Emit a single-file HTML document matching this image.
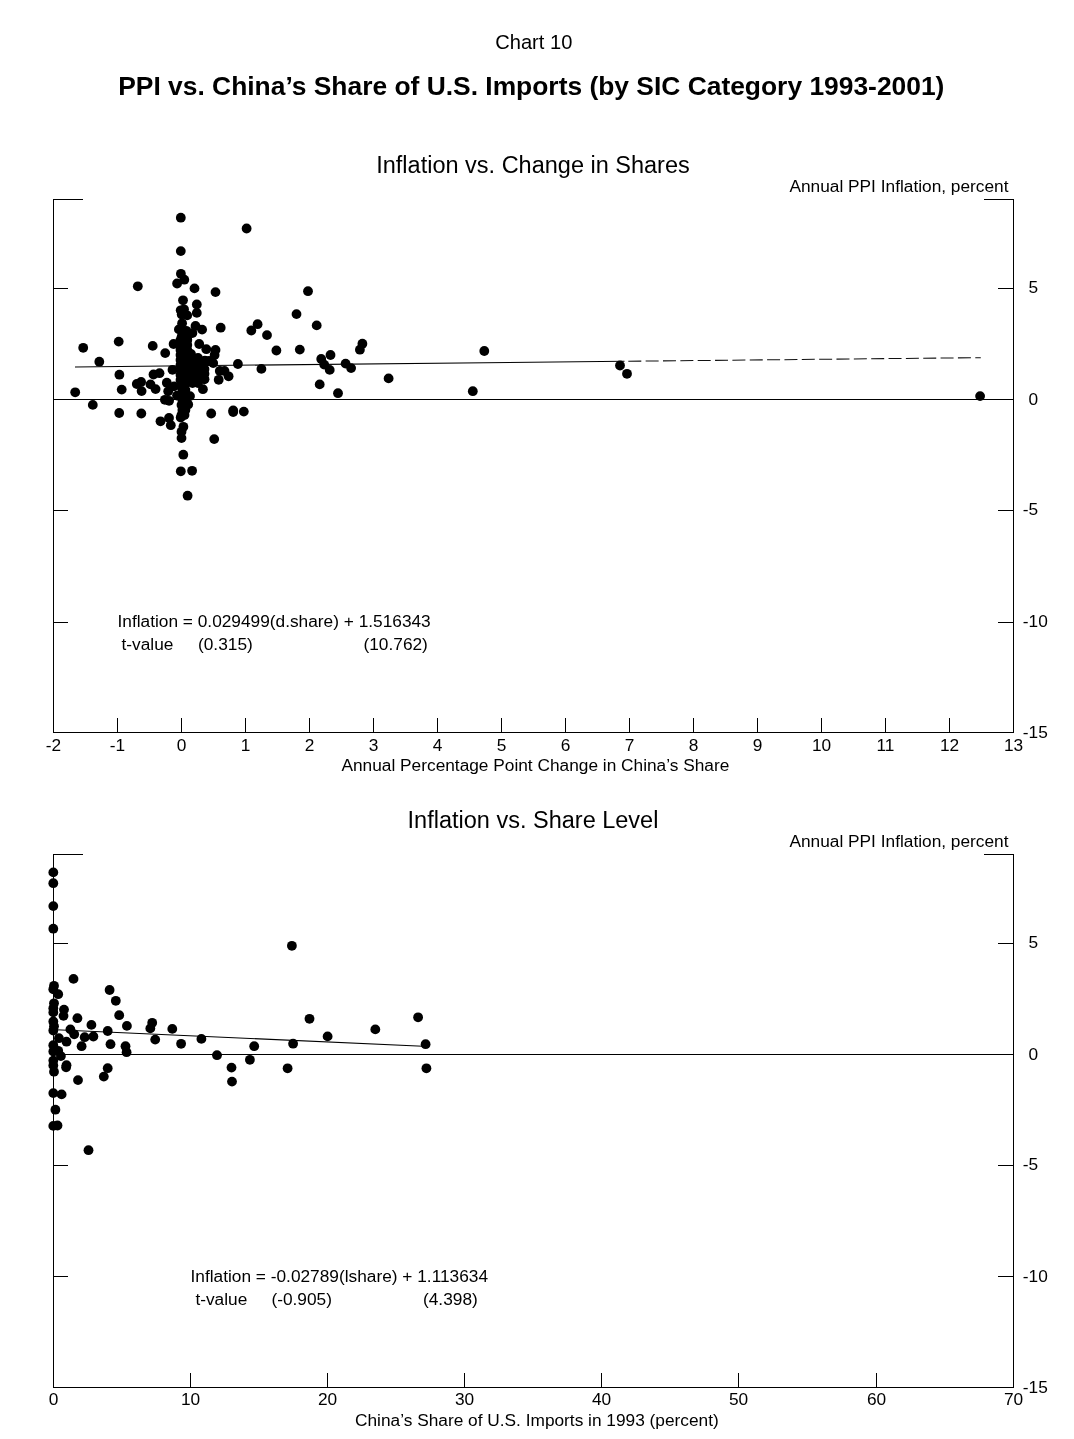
<!DOCTYPE html>
<html><head><meta charset="utf-8"><title>Chart 10</title>
<style>
html,body{margin:0;padding:0;background:#fff;}
svg{display:block;font-family:"Liberation Sans",sans-serif;fill:#000;}
</style></head>
<body>
<svg width="1074" height="1439" viewBox="0 0 1074 1439">
<rect width="1074" height="1439" fill="#fff"/>
<text x="533.8" y="49" font-size="20.1" text-anchor="middle">Chart 10</text>
<text x="531.3" y="94.6" font-size="26.4" font-weight="bold" text-anchor="middle">PPI vs. China’s Share of U.S. Imports (by SIC Category 1993-2001)</text>
<g>
<path d="M83.0,199.5 H53.5 V732.5 H1013.5 V199.5 H984.0" fill="none" stroke="#000" stroke-width="1.05" shape-rendering="crispEdges"/>
<line x1="53.5" y1="399.5" x2="1013.5" y2="399.5" stroke="#000" stroke-width="1.05" shape-rendering="crispEdges"/>
<line x1="53" y1="288.50" x2="68" y2="288.50" stroke="#000" stroke-width="1.05" shape-rendering="crispEdges"/>
<line x1="998" y1="288.50" x2="1014" y2="288.50" stroke="#000" stroke-width="1.05" shape-rendering="crispEdges"/>
<text x="1028.60" y="292.80" font-size="17.3">5</text>
<text x="1028.60" y="405.00" font-size="17.3">0</text>
<line x1="53" y1="510.50" x2="68" y2="510.50" stroke="#000" stroke-width="1.05" shape-rendering="crispEdges"/>
<line x1="998" y1="510.50" x2="1014" y2="510.50" stroke="#000" stroke-width="1.05" shape-rendering="crispEdges"/>
<text x="1022.84" y="514.80" font-size="17.3">-5</text>
<line x1="53" y1="622.50" x2="68" y2="622.50" stroke="#000" stroke-width="1.05" shape-rendering="crispEdges"/>
<line x1="998" y1="622.50" x2="1014" y2="622.50" stroke="#000" stroke-width="1.05" shape-rendering="crispEdges"/>
<text x="1022.84" y="626.80" font-size="17.3">-10</text>
<text x="1022.84" y="737.70" font-size="17.3">-15</text>
<text x="53.50" y="751.30" font-size="17.3" text-anchor="middle">-2</text>
<line x1="117.50" y1="733.0" x2="117.50" y2="718.0" stroke="#000" stroke-width="1.05" shape-rendering="crispEdges"/>
<text x="117.50" y="751.30" font-size="17.3" text-anchor="middle">-1</text>
<line x1="181.50" y1="733.0" x2="181.50" y2="718.0" stroke="#000" stroke-width="1.05" shape-rendering="crispEdges"/>
<text x="181.50" y="751.30" font-size="17.3" text-anchor="middle">0</text>
<line x1="245.50" y1="733.0" x2="245.50" y2="718.0" stroke="#000" stroke-width="1.05" shape-rendering="crispEdges"/>
<text x="245.50" y="751.30" font-size="17.3" text-anchor="middle">1</text>
<line x1="309.50" y1="733.0" x2="309.50" y2="718.0" stroke="#000" stroke-width="1.05" shape-rendering="crispEdges"/>
<text x="309.50" y="751.30" font-size="17.3" text-anchor="middle">2</text>
<line x1="373.50" y1="733.0" x2="373.50" y2="718.0" stroke="#000" stroke-width="1.05" shape-rendering="crispEdges"/>
<text x="373.50" y="751.30" font-size="17.3" text-anchor="middle">3</text>
<line x1="437.50" y1="733.0" x2="437.50" y2="718.0" stroke="#000" stroke-width="1.05" shape-rendering="crispEdges"/>
<text x="437.50" y="751.30" font-size="17.3" text-anchor="middle">4</text>
<line x1="501.50" y1="733.0" x2="501.50" y2="718.0" stroke="#000" stroke-width="1.05" shape-rendering="crispEdges"/>
<text x="501.50" y="751.30" font-size="17.3" text-anchor="middle">5</text>
<line x1="565.50" y1="733.0" x2="565.50" y2="718.0" stroke="#000" stroke-width="1.05" shape-rendering="crispEdges"/>
<text x="565.50" y="751.30" font-size="17.3" text-anchor="middle">6</text>
<line x1="629.50" y1="733.0" x2="629.50" y2="718.0" stroke="#000" stroke-width="1.05" shape-rendering="crispEdges"/>
<text x="629.50" y="751.30" font-size="17.3" text-anchor="middle">7</text>
<line x1="693.50" y1="733.0" x2="693.50" y2="718.0" stroke="#000" stroke-width="1.05" shape-rendering="crispEdges"/>
<text x="693.50" y="751.30" font-size="17.3" text-anchor="middle">8</text>
<line x1="757.50" y1="733.0" x2="757.50" y2="718.0" stroke="#000" stroke-width="1.05" shape-rendering="crispEdges"/>
<text x="757.50" y="751.30" font-size="17.3" text-anchor="middle">9</text>
<line x1="821.50" y1="733.0" x2="821.50" y2="718.0" stroke="#000" stroke-width="1.05" shape-rendering="crispEdges"/>
<text x="821.50" y="751.30" font-size="17.3" text-anchor="middle">10</text>
<line x1="885.50" y1="733.0" x2="885.50" y2="718.0" stroke="#000" stroke-width="1.05" shape-rendering="crispEdges"/>
<text x="885.50" y="751.30" font-size="17.3" text-anchor="middle">11</text>
<line x1="949.50" y1="733.0" x2="949.50" y2="718.0" stroke="#000" stroke-width="1.05" shape-rendering="crispEdges"/>
<text x="949.50" y="751.30" font-size="17.3" text-anchor="middle">12</text>
<text x="1013.50" y="751.30" font-size="17.3" text-anchor="middle">13</text>
<text x="533" y="173" font-size="23.5" text-anchor="middle">Inflation vs. Change in Shares</text>
<text x="1008.5" y="192" font-size="17.3" text-anchor="end">Annual PPI Inflation, percent</text>
<text x="535.4" y="771" font-size="17.3" text-anchor="middle">Annual Percentage Point Change in China’s Share</text>
<text x="117.5" y="627" font-size="17.3">Inflation = 0.029499(d.share) + 1.516343</text>
<text x="121.5" y="649.5" font-size="17.3">t-value</text><text x="198" y="649.5" font-size="17.3">(0.315)</text><text x="363.5" y="649.5" font-size="17.3">(10.762)</text>
<line x1="75" y1="366.95" x2="624.5" y2="361.3" stroke="#000" stroke-width="1.05"/><line x1="628.3" y1="361.25" x2="980.8" y2="357.65" stroke="#111" stroke-width="1.05" stroke-dasharray="13,4.35"/>
<circle cx="180.8" cy="217.7" r="4.9"/>
<circle cx="246.6" cy="228.5" r="4.9"/>
<circle cx="180.8" cy="251.1" r="4.9"/>
<circle cx="180.9" cy="273.8" r="4.9"/>
<circle cx="184.3" cy="279.7" r="4.9"/>
<circle cx="177.1" cy="283.5" r="4.9"/>
<circle cx="137.8" cy="286.3" r="4.9"/>
<circle cx="194.5" cy="288.4" r="4.9"/>
<circle cx="215.5" cy="292.1" r="4.9"/>
<circle cx="308" cy="291.2" r="4.9"/>
<circle cx="183" cy="300.3" r="4.9"/>
<circle cx="196.8" cy="304.5" r="4.9"/>
<circle cx="196.8" cy="312.9" r="4.9"/>
<circle cx="180.7" cy="310.3" r="4.9"/>
<circle cx="184" cy="309.3" r="4.9"/>
<circle cx="181.7" cy="314.5" r="4.9"/>
<circle cx="187.2" cy="315.4" r="4.9"/>
<circle cx="296.5" cy="314.1" r="4.9"/>
<circle cx="257.6" cy="324.2" r="4.9"/>
<circle cx="220.7" cy="327.7" r="4.9"/>
<circle cx="251.3" cy="330.5" r="4.9"/>
<circle cx="267" cy="335.1" r="4.9"/>
<circle cx="202.1" cy="329.6" r="4.9"/>
<circle cx="195.5" cy="326" r="4.9"/>
<circle cx="182.1" cy="323.3" r="4.9"/>
<circle cx="178.9" cy="329.4" r="4.9"/>
<circle cx="186.3" cy="330.8" r="4.9"/>
<circle cx="192.4" cy="333.1" r="4.9"/>
<circle cx="181.7" cy="336.4" r="4.9"/>
<circle cx="187.2" cy="339.1" r="4.9"/>
<circle cx="118.7" cy="341.6" r="4.9"/>
<circle cx="83.2" cy="347.8" r="4.9"/>
<circle cx="152.7" cy="345.9" r="4.9"/>
<circle cx="165.2" cy="353.1" r="4.9"/>
<circle cx="99.3" cy="361.7" r="4.9"/>
<circle cx="276.4" cy="350.5" r="4.9"/>
<circle cx="299.8" cy="349.6" r="4.9"/>
<circle cx="237.9" cy="364" r="4.9"/>
<circle cx="261.4" cy="368.9" r="4.9"/>
<circle cx="173.6" cy="344" r="4.9"/>
<circle cx="199.2" cy="344" r="4.9"/>
<circle cx="206.3" cy="349.2" r="4.9"/>
<circle cx="215.5" cy="349.9" r="4.9"/>
<circle cx="214.6" cy="355" r="4.9"/>
<circle cx="213.2" cy="363.1" r="4.9"/>
<circle cx="316.7" cy="325.4" r="4.9"/>
<circle cx="362.4" cy="343.7" r="4.9"/>
<circle cx="359.9" cy="349.7" r="4.9"/>
<circle cx="330.5" cy="355" r="4.9"/>
<circle cx="321.2" cy="359" r="4.9"/>
<circle cx="324.2" cy="364.6" r="4.9"/>
<circle cx="329.7" cy="369.9" r="4.9"/>
<circle cx="345.6" cy="363.6" r="4.9"/>
<circle cx="351.1" cy="368.1" r="4.9"/>
<circle cx="319.7" cy="384.4" r="4.9"/>
<circle cx="338" cy="393.2" r="4.9"/>
<circle cx="388.6" cy="378.4" r="4.9"/>
<circle cx="484.3" cy="351" r="4.9"/>
<circle cx="472.8" cy="391.2" r="4.9"/>
<circle cx="243.8" cy="411.6" r="4.9"/>
<circle cx="620" cy="365.5" r="4.9"/>
<circle cx="627" cy="373.8" r="4.9"/>
<circle cx="980.1" cy="396.1" r="4.9"/>
<circle cx="119.4" cy="374.7" r="4.9"/>
<circle cx="75.2" cy="392.3" r="4.9"/>
<circle cx="121.7" cy="389.6" r="4.9"/>
<circle cx="92.8" cy="404.9" r="4.9"/>
<circle cx="119.2" cy="413" r="4.9"/>
<circle cx="141.3" cy="413.5" r="4.9"/>
<circle cx="136.8" cy="384" r="4.9"/>
<circle cx="141.1" cy="382" r="4.9"/>
<circle cx="141.6" cy="391.1" r="4.9"/>
<circle cx="150.5" cy="384.4" r="4.9"/>
<circle cx="155.6" cy="389.1" r="4.9"/>
<circle cx="153.5" cy="374.5" r="4.9"/>
<circle cx="159.5" cy="373.2" r="4.9"/>
<circle cx="166.8" cy="382.7" r="4.9"/>
<circle cx="172.5" cy="369.8" r="4.9"/>
<circle cx="168.2" cy="391.3" r="4.9"/>
<circle cx="174.1" cy="386.4" r="4.9"/>
<circle cx="164.9" cy="399.8" r="4.9"/>
<circle cx="169.1" cy="400.8" r="4.9"/>
<circle cx="160.5" cy="421.3" r="4.9"/>
<circle cx="169" cy="418" r="4.9"/>
<circle cx="170.8" cy="425.2" r="4.9"/>
<circle cx="183.4" cy="426.8" r="4.9"/>
<circle cx="181.5" cy="431.8" r="4.9"/>
<circle cx="181.5" cy="438.1" r="4.9"/>
<circle cx="214.2" cy="439.1" r="4.9"/>
<circle cx="183.3" cy="454.7" r="4.9"/>
<circle cx="180.8" cy="471.3" r="4.9"/>
<circle cx="192.1" cy="470.8" r="4.9"/>
<circle cx="187.6" cy="495.7" r="4.9"/>
<circle cx="211.2" cy="413.5" r="4.9"/>
<circle cx="233.2" cy="410.5" r="4.9"/>
<circle cx="233.2" cy="412" r="4.9"/>
<circle cx="202.9" cy="389.2" r="4.9"/>
<circle cx="228.6" cy="376.3" r="4.9"/>
<circle cx="218.7" cy="379.8" r="4.9"/>
<circle cx="219.8" cy="371" r="4.9"/>
<circle cx="224.5" cy="371" r="4.9"/>
<circle cx="204.5" cy="369.1" r="4.9"/>
<circle cx="204.5" cy="373.8" r="4.9"/>
<circle cx="204.5" cy="379.3" r="4.9"/>
<circle cx="198" cy="379.3" r="4.9"/>
<circle cx="204.9" cy="360.7" r="4.9"/>
<circle cx="209" cy="361" r="4.9"/>
<circle cx="190" cy="396.1" r="4.9"/>
<circle cx="177" cy="395.6" r="4.9"/>
<circle cx="188.2" cy="404.5" r="4.9"/>
<circle cx="180.7" cy="417.5" r="4.9"/>
<circle cx="183.5" cy="411" r="4.9"/>
<circle cx="180.5" cy="340" r="4.9"/>
<circle cx="184" cy="340" r="4.9"/>
<circle cx="187.3" cy="340" r="4.9"/>
<circle cx="180.5" cy="345" r="4.9"/>
<circle cx="184" cy="345" r="4.9"/>
<circle cx="187.3" cy="345" r="4.9"/>
<circle cx="180.5" cy="350" r="4.9"/>
<circle cx="184" cy="350" r="4.9"/>
<circle cx="187.3" cy="350" r="4.9"/>
<circle cx="180.5" cy="355" r="4.9"/>
<circle cx="184" cy="355" r="4.9"/>
<circle cx="187.3" cy="355" r="4.9"/>
<circle cx="180.5" cy="360" r="4.9"/>
<circle cx="184" cy="360" r="4.9"/>
<circle cx="187.3" cy="360" r="4.9"/>
<circle cx="180.5" cy="365" r="4.9"/>
<circle cx="184" cy="365" r="4.9"/>
<circle cx="187.3" cy="365" r="4.9"/>
<circle cx="180.5" cy="370" r="4.9"/>
<circle cx="184" cy="370" r="4.9"/>
<circle cx="187.3" cy="370" r="4.9"/>
<circle cx="180.5" cy="375" r="4.9"/>
<circle cx="184" cy="375" r="4.9"/>
<circle cx="187.3" cy="375" r="4.9"/>
<circle cx="180.5" cy="380" r="4.9"/>
<circle cx="184" cy="380" r="4.9"/>
<circle cx="187.3" cy="380" r="4.9"/>
<circle cx="181.5" cy="385" r="4.9"/>
<circle cx="184.5" cy="385" r="4.9"/>
<circle cx="182.4" cy="390" r="4.9"/>
<circle cx="185.4" cy="390" r="4.9"/>
<circle cx="181.5" cy="395" r="4.9"/>
<circle cx="184.5" cy="395" r="4.9"/>
<circle cx="182.4" cy="400" r="4.9"/>
<circle cx="185.4" cy="400" r="4.9"/>
<circle cx="181.5" cy="405" r="4.9"/>
<circle cx="184.5" cy="405" r="4.9"/>
<circle cx="182.4" cy="410" r="4.9"/>
<circle cx="185.4" cy="410" r="4.9"/>
<circle cx="181.5" cy="415" r="4.9"/>
<circle cx="184.5" cy="415" r="4.9"/>
<circle cx="192.5" cy="358" r="4.9"/>
<circle cx="198" cy="358" r="4.9"/>
<circle cx="192.5" cy="363" r="4.9"/>
<circle cx="198" cy="363" r="4.9"/>
<circle cx="192.5" cy="368" r="4.9"/>
<circle cx="198" cy="368" r="4.9"/>
<circle cx="192.5" cy="373" r="4.9"/>
<circle cx="198" cy="373" r="4.9"/>
<circle cx="192.5" cy="378" r="4.9"/>
<circle cx="198" cy="378" r="4.9"/>
<circle cx="192.5" cy="383" r="4.9"/>
<circle cx="198" cy="383" r="4.9"/>
<circle cx="191" cy="354" r="4.9"/>
</g>
<g>
<path d="M83.0,854.5 H53.5 V1387.5 H1013.5 V854.5 H984.0" fill="none" stroke="#000" stroke-width="1.05" shape-rendering="crispEdges"/>
<line x1="53.5" y1="1054.5" x2="1013.5" y2="1054.5" stroke="#000" stroke-width="1.05" shape-rendering="crispEdges"/>
<line x1="53" y1="943.50" x2="68" y2="943.50" stroke="#000" stroke-width="1.05" shape-rendering="crispEdges"/>
<line x1="998" y1="943.50" x2="1014" y2="943.50" stroke="#000" stroke-width="1.05" shape-rendering="crispEdges"/>
<text x="1028.60" y="947.80" font-size="17.3">5</text>
<text x="1028.60" y="1060.00" font-size="17.3">0</text>
<line x1="53" y1="1165.50" x2="68" y2="1165.50" stroke="#000" stroke-width="1.05" shape-rendering="crispEdges"/>
<line x1="998" y1="1165.50" x2="1014" y2="1165.50" stroke="#000" stroke-width="1.05" shape-rendering="crispEdges"/>
<text x="1022.84" y="1169.80" font-size="17.3">-5</text>
<line x1="53" y1="1276.50" x2="68" y2="1276.50" stroke="#000" stroke-width="1.05" shape-rendering="crispEdges"/>
<line x1="998" y1="1276.50" x2="1014" y2="1276.50" stroke="#000" stroke-width="1.05" shape-rendering="crispEdges"/>
<text x="1022.84" y="1281.80" font-size="17.3">-10</text>
<text x="1022.84" y="1392.70" font-size="17.3">-15</text>
<text x="53.50" y="1405.20" font-size="17.3" text-anchor="middle">0</text>
<line x1="190.50" y1="1388.0" x2="190.50" y2="1373.0" stroke="#000" stroke-width="1.05" shape-rendering="crispEdges"/>
<text x="190.50" y="1405.20" font-size="17.3" text-anchor="middle">10</text>
<line x1="327.50" y1="1388.0" x2="327.50" y2="1373.0" stroke="#000" stroke-width="1.05" shape-rendering="crispEdges"/>
<text x="327.50" y="1405.20" font-size="17.3" text-anchor="middle">20</text>
<line x1="464.50" y1="1388.0" x2="464.50" y2="1373.0" stroke="#000" stroke-width="1.05" shape-rendering="crispEdges"/>
<text x="464.50" y="1405.20" font-size="17.3" text-anchor="middle">30</text>
<line x1="601.50" y1="1388.0" x2="601.50" y2="1373.0" stroke="#000" stroke-width="1.05" shape-rendering="crispEdges"/>
<text x="601.50" y="1405.20" font-size="17.3" text-anchor="middle">40</text>
<line x1="738.50" y1="1388.0" x2="738.50" y2="1373.0" stroke="#000" stroke-width="1.05" shape-rendering="crispEdges"/>
<text x="738.50" y="1405.20" font-size="17.3" text-anchor="middle">50</text>
<line x1="876.50" y1="1388.0" x2="876.50" y2="1373.0" stroke="#000" stroke-width="1.05" shape-rendering="crispEdges"/>
<text x="876.50" y="1405.20" font-size="17.3" text-anchor="middle">60</text>
<text x="1013.50" y="1405.20" font-size="17.3" text-anchor="middle">70</text>
<text x="533" y="828" font-size="23.5" text-anchor="middle">Inflation vs. Share Level</text>
<text x="1008.5" y="847" font-size="17.3" text-anchor="end">Annual PPI Inflation, percent</text>
<text x="536.9" y="1426" font-size="17.3" text-anchor="middle">China’s Share of U.S. Imports in 1993 (percent)</text>
<text x="190.5" y="1282" font-size="17.3">Inflation = -0.02789(lshare) + 1.113634</text>
<text x="195.4" y="1304.5" font-size="17.3">t-value</text><text x="271.4" y="1304.5" font-size="17.3">(-0.905)</text><text x="423" y="1304.5" font-size="17.3">(4.398)</text>
<line x1="56" y1="1029.7" x2="423" y2="1046.2" stroke="#000" stroke-width="1.05"/>
<circle cx="53.3" cy="872.4" r="4.9"/>
<circle cx="53.3" cy="883.2" r="4.9"/>
<circle cx="53.3" cy="906.1" r="4.9"/>
<circle cx="53.3" cy="928.7" r="4.9"/>
<circle cx="291.9" cy="945.8" r="4.9"/>
<circle cx="73.5" cy="978.9" r="4.9"/>
<circle cx="54" cy="985.8" r="4.9"/>
<circle cx="53.3" cy="989.3" r="4.9"/>
<circle cx="58.2" cy="994.2" r="4.9"/>
<circle cx="109.6" cy="990" r="4.9"/>
<circle cx="115.8" cy="1000.8" r="4.9"/>
<circle cx="119.2" cy="1015.2" r="4.9"/>
<circle cx="54" cy="1003.3" r="4.9"/>
<circle cx="53.3" cy="1008.2" r="4.9"/>
<circle cx="64" cy="1009.6" r="4.9"/>
<circle cx="53.3" cy="1012.4" r="4.9"/>
<circle cx="63.5" cy="1015.9" r="4.9"/>
<circle cx="77.4" cy="1018.2" r="4.9"/>
<circle cx="91.4" cy="1024.9" r="4.9"/>
<circle cx="53.3" cy="1021.5" r="4.9"/>
<circle cx="54" cy="1026.3" r="4.9"/>
<circle cx="53.3" cy="1030.5" r="4.9"/>
<circle cx="70.4" cy="1029.4" r="4.9"/>
<circle cx="74.2" cy="1034.3" r="4.9"/>
<circle cx="84.7" cy="1037.2" r="4.9"/>
<circle cx="93.4" cy="1036.5" r="4.9"/>
<circle cx="107.7" cy="1031" r="4.9"/>
<circle cx="126.9" cy="1025.9" r="4.9"/>
<circle cx="152.2" cy="1022.8" r="4.9"/>
<circle cx="150.3" cy="1028.4" r="4.9"/>
<circle cx="172.3" cy="1028.9" r="4.9"/>
<circle cx="155.2" cy="1039.6" r="4.9"/>
<circle cx="181.1" cy="1043.8" r="4.9"/>
<circle cx="58.9" cy="1038.2" r="4.9"/>
<circle cx="66.5" cy="1041.7" r="4.9"/>
<circle cx="81.6" cy="1046.2" r="4.9"/>
<circle cx="110.5" cy="1044.2" r="4.9"/>
<circle cx="125.5" cy="1046.2" r="4.9"/>
<circle cx="126.6" cy="1052.2" r="4.9"/>
<circle cx="53.3" cy="1045.2" r="4.9"/>
<circle cx="58.2" cy="1050.8" r="4.9"/>
<circle cx="53.3" cy="1051.5" r="4.9"/>
<circle cx="60.9" cy="1056.1" r="4.9"/>
<circle cx="53.3" cy="1060.6" r="4.9"/>
<circle cx="53.3" cy="1065.4" r="4.9"/>
<circle cx="66.5" cy="1065.2" r="4.9"/>
<circle cx="66.1" cy="1067.3" r="4.9"/>
<circle cx="54" cy="1071.7" r="4.9"/>
<circle cx="107.7" cy="1068.2" r="4.9"/>
<circle cx="103.8" cy="1076.6" r="4.9"/>
<circle cx="78" cy="1080.1" r="4.9"/>
<circle cx="53.3" cy="1093.1" r="4.9"/>
<circle cx="61.6" cy="1094.4" r="4.9"/>
<circle cx="55.4" cy="1109.7" r="4.9"/>
<circle cx="53.3" cy="1125.9" r="4.9"/>
<circle cx="57.5" cy="1125.5" r="4.9"/>
<circle cx="88.5" cy="1150.2" r="4.9"/>
<circle cx="309.5" cy="1018.8" r="4.9"/>
<circle cx="418.1" cy="1017.3" r="4.9"/>
<circle cx="375.3" cy="1029.4" r="4.9"/>
<circle cx="327.6" cy="1036.4" r="4.9"/>
<circle cx="201.4" cy="1038.9" r="4.9"/>
<circle cx="254.2" cy="1046.2" r="4.9"/>
<circle cx="293.1" cy="1043.7" r="4.9"/>
<circle cx="425.6" cy="1044.2" r="4.9"/>
<circle cx="217" cy="1055.2" r="4.9"/>
<circle cx="249.9" cy="1059.8" r="4.9"/>
<circle cx="231.5" cy="1067.6" r="4.9"/>
<circle cx="232" cy="1081.6" r="4.9"/>
<circle cx="287.6" cy="1068.3" r="4.9"/>
<circle cx="426.4" cy="1068.3" r="4.9"/>
</g>
</svg>
</body></html>
